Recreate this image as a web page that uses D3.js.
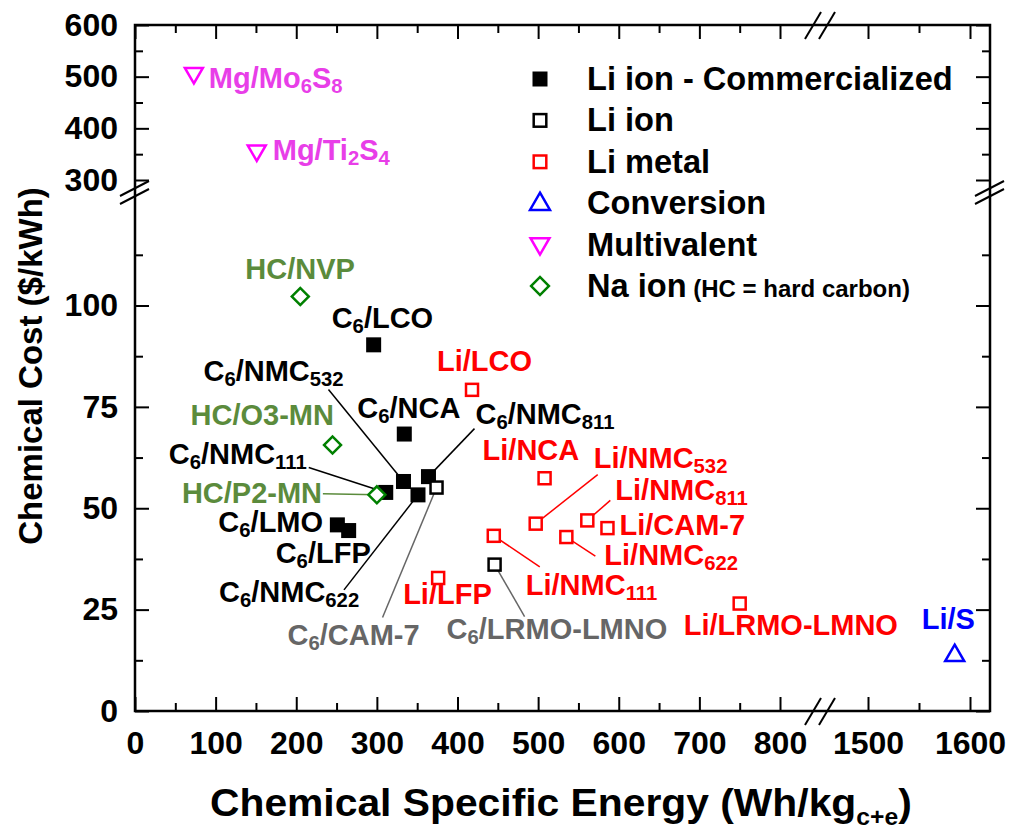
<!DOCTYPE html>
<html>
<head>
<meta charset="utf-8">
<script src="https://d3js.org/d3.v7.min.js"></script>
<style>
  body { margin: 0; background: #fff; }
  text { font-family: "Liberation Sans", Arial, Helvetica, sans-serif; font-weight: bold; }
</style>
</head>
<body>
<div id="chart-area"></div>
<script>
const W = 1013, H = 835
const FRAME = { LEFT: 135, RIGHT: 990, TOP: 25, BOTTOM: 711 }
const FONT = '"Liberation Sans", Arial, Helvetica, sans-serif'

// ---- data ----
// names: {..} marks a subscript
const categories = ["Li ion - Commercialized", "Li ion", "Li metal", "Conversion", "Multivalent", "Na ion"]

const comNames  = ["C{6}/LCO", "C{6}/NCA", "C{6}/NMC{532}", "C{6}/NMC{811}", "C{6}/NMC{622}", "C{6}/NMC{111}", "C{6}/LMO", "C{6}/LFP"]
const comEnergy = [296, 334, 333, 364, 351, 311, 251, 265]
const comCost   = [90.3, 68.3, 56.6, 57.8, 53.3, 53.9, 45.9, 44.5]

const ionNames  = ["C{6}/CAM-7", "C{6}/LRMO-LMNO"]
const ionEnergy = [374, 446]
const ionCost   = [55.1, 36.1]

const metNames  = ["Li/LCO", "Li/NCA", "Li/NMC{532}", "Li/NMC{811}", "Li/CAM-7", "Li/NMC{622}", "Li/NMC{111}", "Li/LFP", "Li/LRMO-LMNO"]
const metEnergy = [418, 508, 497, 561, 586, 535, 445, 376, 750]
const metCost   = [79.2, 57.4, 46.2, 47.0, 45.1, 42.9, 43.2, 32.8, 26.5]

const convNames  = ["Li/S"]
const convEnergy = [1585]
const convCost   = [13.9]

const mvNames  = ["Mg/Mo{6}S{8}", "Mg/Ti{2}S{4}"]
const mvEnergy = [73, 151]
const mvCost   = [505, 355]

const naNames  = ["HC/NVP", "HC/O3-MN", "HC/P2-MN"]
const naEnergy = [205, 245, 300]
const naCost   = [102.2, 65.6, 53.3]

// tick values
const xTicksLow = [0, 100, 200, 300, 400, 500, 600, 700, 800]
const xMinorLow = [50, 150, 250, 350, 450, 550, 650, 750]
const xTicksHigh = [1500, 1600]
const xMinorHigh = [1550]
const yTicksLow = [0, 25, 50, 75, 100]
const yMinorLow = [12.5, 37.5, 62.5, 87.5, 112.5]
const yTicksHigh = [300, 400, 500, 600]
const yMinorHigh = [350, 450, 550]

// series styling
const series = [
  { names: comNames,  energy: comEnergy,  cost: comCost,  shape: "square",  fill: "#000", stroke: "none", size: 15, text: "#000", lead: "#000" },
  { names: ionNames,  energy: ionEnergy,  cost: ionCost,  shape: "square",  fill: "#fff", stroke: "#000", size: 12, text: "#666", lead: "#666" },
  { names: metNames,  energy: metEnergy,  cost: metCost,  shape: "square",  fill: "#fff", stroke: "#f00", size: 12, text: "#f00", lead: "#f00" },
  { names: convNames, energy: convEnergy, cost: convCost, shape: "triUp",   fill: "#fff", stroke: "#00f", size: 19, text: "#00f", lead: "#00f" },
  { names: mvNames,   energy: mvEnergy,   cost: mvCost,   shape: "triDown", fill: "#fff", stroke: "#f0f", size: 18, text: "#e83ee8", lead: "#f0f" },
  { names: naNames,   energy: naEnergy,   cost: naCost,   shape: "diamond", fill: "#fff", stroke: "#008000", size: 12, text: "#5b8b3c", lead: "#5b8b3c" }
]

// label offsets (px) from the marker centre: text start/baseline, leader start
const labelLayout = {
  "C{6}/LCO": { dx: -42, dy: -17 },
  "C{6}/NCA": { dx: -47, dy: -16 },
  "C{6}/NMC{532}": { dx: -200, dy: -100, lead: [-75, -92] },
  "C{6}/NMC{811}": { dx: 47, dy: -53, lead: [46, -48] },
  "C{6}/NMC{622}": { dx: -199, dy: 107, lead: [-74, 95] },
  "C{6}/NMC{111}": { dx: -217, dy: -28, lead: [-77, -25] },
  "C{6}/LMO": { dx: -119, dy: 7 },
  "C{6}/LFP": { dx: -73, dy: 32 },
  "C{6}/CAM-7": { dx: -149, dy: 157, lead: [-54, 130] },
  "C{6}/LRMO-LMNO": { dx: -48, dy: 74, lead: [30, 52] },
  "Li/LCO": { dx: -35, dy: -19 },
  "Li/NCA": { dx: -62, dy: -18 },
  "Li/NMC{532}": { dx: 58, dy: -56, lead: [62, -49] },
  "Li/NMC{811}": { dx: 28, dy: -20, lead: [23, -20] },
  "Li/CAM-7": { dx: 12, dy: 7 },
  "Li/NMC{622}": { dx: 38, dy: 28, lead: [29, 19] },
  "Li/NMC{111}": { dx: 32, dy: 59, lead: [46, 31] },
  "Li/LFP": { dx: -35, dy: 26 },
  "Li/LRMO-LMNO": { dx: -56, dy: 31 },
  "Li/S": { dx: -33, dy: -26 },
  "Mg/Mo{6}S{8}": { dx: 15, dy: 14 },
  "Mg/Ti{2}S{4}": { dx: 16, dy: 8 },
  "HC/NVP": { dx: -55, dy: -18 },
  "HC/O3-MN": { dx: -142, dy: -20 },
  "HC/P2-MN": { dx: -195, dy: 8, lead: [-54, -1] }
}

// ---- scales (broken axes) ----
const xLow = d3.scaleLinear().domain([0, 800]).range([FRAME.LEFT, 780])
const xHigh = d3.scaleLinear().domain([1500, 1600]).range([868, 970])
const yLow = d3.scaleLinear().domain([0, 100]).range([FRAME.BOTTOM, 305.5])
const yHigh = d3.scaleLinear().domain([300, 600]).range([180, FRAME.TOP])
const X = v => v < 1000 ? xLow(v) : xHigh(v)
const Y = v => v < 200 ? yLow(v) : yHigh(v)
const BREAK_X = 820, BREAK_Y = 192

const svg = d3.select("#chart-area").append("svg")
  .attr("width", W)
  .attr("height", H)

svg.append("rect").attr("width", W).attr("height", H).attr("fill", "#fff")

// ---- axes ----
function styleAxis(g) {
  g.select(".domain").remove()
  g.selectAll("line").attr("stroke", "#000").attr("stroke-width", 2)
  g.attr("font-size", 32).attr("font-family", FONT).attr("font-weight", "bold")
}

function axisPair(axisFn, scale, major, minor, pos, labels, pad) {
  const g1 = svg.append("g").attr("transform", pos)
    .call(axisFn(scale).tickValues(major).tickSize(-14).tickPadding(pad)
      .tickFormat(labels ? d => d : () => ""))
  styleAxis(g1)
  const g2 = svg.append("g").attr("transform", pos)
    .call(axisFn(scale).tickValues(minor).tickSize(-8).tickFormat(() => ""))
  styleAxis(g2)
}

axisPair(d3.axisBottom, xLow, xTicksLow, xMinorLow, `translate(0,${FRAME.BOTTOM})`, true, 20)
axisPair(d3.axisBottom, xHigh, xTicksHigh, xMinorHigh, `translate(0,${FRAME.BOTTOM})`, true, 20)
axisPair(d3.axisTop, xLow, xTicksLow, xMinorLow, `translate(0,${FRAME.TOP})`, false, 0)
axisPair(d3.axisTop, xHigh, xTicksHigh, xMinorHigh, `translate(0,${FRAME.TOP})`, false, 0)
axisPair(d3.axisLeft, yLow, yTicksLow, yMinorLow, `translate(${FRAME.LEFT},0)`, true, 17)
axisPair(d3.axisLeft, yHigh, yTicksHigh, yMinorHigh, `translate(${FRAME.LEFT},0)`, true, 17)
axisPair(d3.axisRight, yLow, yTicksLow, yMinorLow, `translate(${FRAME.RIGHT},0)`, false, 0)
axisPair(d3.axisRight, yHigh, yTicksHigh, yMinorHigh, `translate(${FRAME.RIGHT},0)`, false, 0)

// frame
svg.append("rect")
  .attr("x", FRAME.LEFT).attr("y", FRAME.TOP)
  .attr("width", FRAME.RIGHT - FRAME.LEFT).attr("height", FRAME.BOTTOM - FRAME.TOP)
  .attr("fill", "none").attr("stroke", "#000").attr("stroke-width", 2.5)

// break marks
const breaks = svg.append("g").attr("stroke", "#000").attr("stroke-width", 2)
;[FRAME.LEFT, FRAME.RIGHT].forEach(x0 => {
  [-4, 4].forEach(o => breaks.append("line")
    .attr("x1", x0 - 15).attr("y1", BREAK_Y + o + 8)
    .attr("x2", x0 + 14).attr("y2", BREAK_Y + o - 7))
})
;[FRAME.TOP, FRAME.BOTTOM].forEach(y0 => {
  [-7, 7].forEach(o => breaks.append("line")
    .attr("x1", BREAK_X + o - 8).attr("y1", y0 + 14)
    .attr("x2", BREAK_X + o + 8).attr("y2", y0 - 13))
})

// axis titles
svg.append("text")
  .attr("transform", `translate(30, 366) rotate(-90)`)
  .attr("text-anchor", "middle")
  .attr("dy", "0.35em")
  .attr("font-size", 33)
  .text("Chemical Cost ($/kWh)")

const XT_LEFT = 210, XT_WIDTH = 702
const xt = svg.append("text")
  .attr("x", XT_LEFT).attr("y", 816)
  .attr("font-size", 38)
xt.append("tspan").text("Chemical Specific Energy (Wh/kg")
xt.append("tspan").attr("font-size", 23).attr("dy", 9).text("c+e")
xt.append("tspan").attr("dy", -9).text(")")
// stretch the title sideways to the reference width
const xtw = xt.node().getBBox().width
xt.attr("transform", `translate(${XT_LEFT},0) scale(${XT_WIDTH / xtw},1) translate(${-XT_LEFT},0)`)

// ---- helpers ----
function richText(sel, s, size) {
  let shifted = false
  s.split(/(\{[^}]*\})/).filter(t => t).forEach(part => {
    const sub = part[0] === "{"
    const t = sel.append("tspan").text(sub ? part.slice(1, -1) : part)
    if (sub) { t.attr("font-size", size * 0.7).attr("dy", shifted ? 0 : 5); shifted = true }
    else { if (shifted) t.attr("dy", -5); shifted = false }
  })
}

function drawMarker(g, s, cx, cy, scale) {
  const k = scale || 1
  if (s.shape === "square") {
    g.append("rect")
      .attr("x", cx - s.size * k / 2).attr("y", cy - s.size * k / 2)
      .attr("width", s.size * k).attr("height", s.size * k)
      .attr("fill", s.fill).attr("stroke", s.stroke).attr("stroke-width", 2.5)
  } else if (s.shape === "diamond") {
    g.append("path")
      .attr("d", d3.symbol(d3.symbolSquare, (s.size * k) ** 2)())
      .attr("transform", `translate(${cx},${cy}) rotate(45)`)
      .attr("fill", s.fill).attr("stroke", s.stroke).attr("stroke-width", 2.5)
  } else {
    const a = s.size * k
    g.append("path")
      .attr("d", d3.symbol(d3.symbolTriangle, Math.sqrt(3) / 4 * a * a)())
      .attr("transform", `translate(${cx},${cy + (s.shape === "triUp" ? 1 : -1)}) rotate(${s.shape === "triUp" ? 0 : 180})`)
      .attr("fill", s.fill).attr("stroke", s.stroke).attr("stroke-width", 2.5)
  }
}

// ---- leaders, labels, markers ----
const LABEL_SIZE = 29
const leaders = svg.append("g")
const labels = svg.append("g")
const marks = svg.append("g")

series.forEach(s => {
  s.names.forEach((name, i) => {
    const px = X(s.energy[i]), py = Y(s.cost[i])
    const lay = labelLayout[name]
    if (lay.lead) {
      leaders.append("line")
        .attr("x1", px + lay.lead[0]).attr("y1", py + lay.lead[1])
        .attr("x2", px).attr("y2", py)
        .attr("stroke", s.lead).attr("stroke-width", 1.5)
    }
    const t = labels.append("text")
      .attr("x", px + lay.dx).attr("y", py + lay.dy)
      .attr("font-size", LABEL_SIZE).attr("fill", s.text)
    richText(t, name, LABEL_SIZE)
    drawMarker(marks, s, px, py)
  })
})

// ---- legend ----
const legend = svg.append("g")
categories.forEach((c, i) => {
  const cy = 79 + i * 41.4
  drawMarker(legend, series[i], 540, cy, i === 0 ? 1 : 1.05)
  const t = legend.append("text")
    .attr("x", 587).attr("y", cy + 11)
    .attr("font-size", 32.6)
    .text(c)
  if (i === categories.length - 1) {
    t.append("tspan").attr("font-size", 24).text(" (HC = hard carbon)")
  }
})
</script>
</body>
</html>
